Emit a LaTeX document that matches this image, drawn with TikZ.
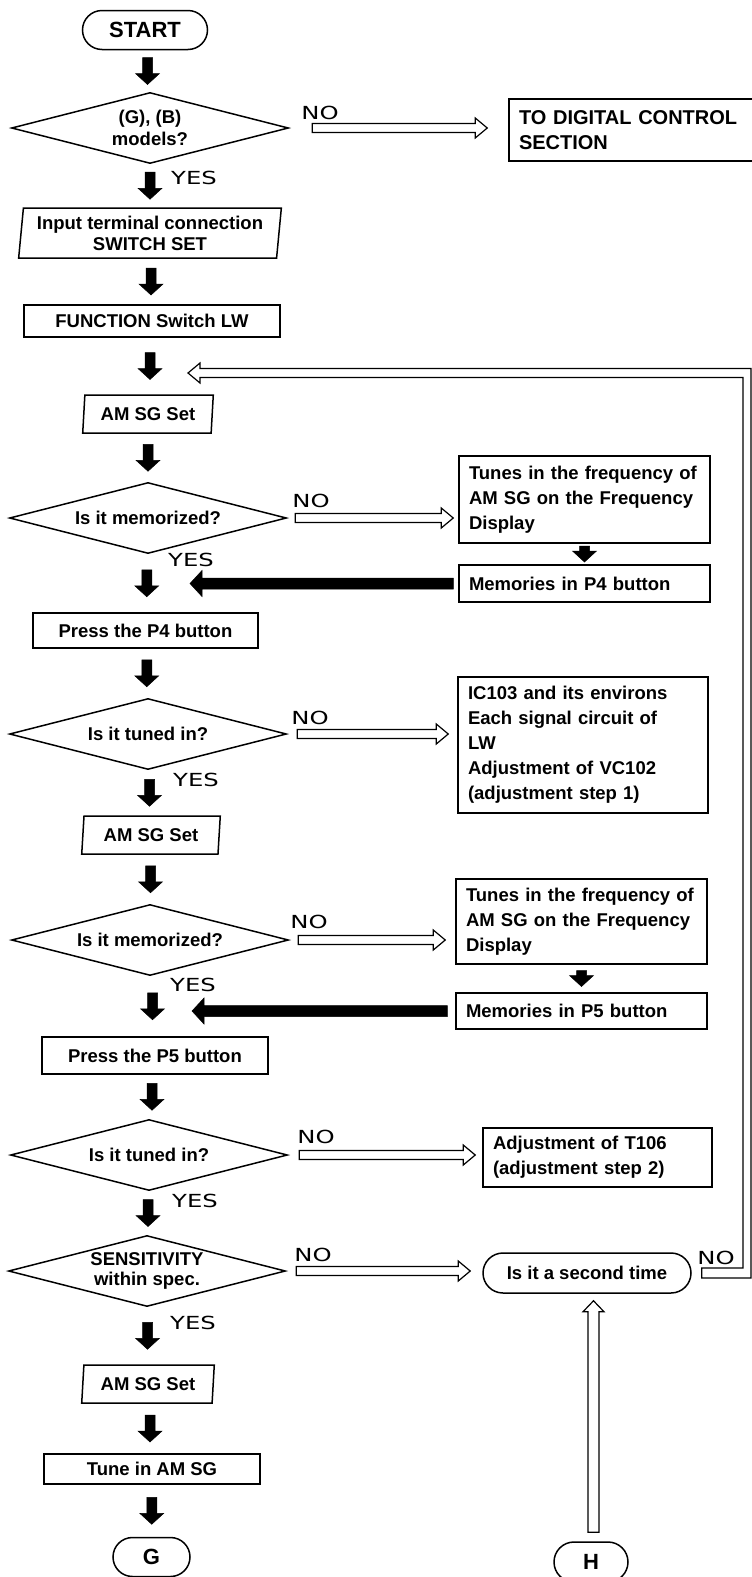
\documentclass[tikz,border=0pt]{standalone}
\usepackage{fontspec}
\setmainfont{Liberation Sans}
\newfontfamily\ynfont[FakeStretch=1.35]{DejaVu Sans}
\usetikzlibrary{shapes.geometric}
\usetikzlibrary{shapes.misc}
\usetikzlibrary{calc}

\tikzset{
  base/.style={draw, line width=1.5pt, inner sep=0pt, font=\bfseries\fontsize{18.5}{25}\selectfont},
  box/.style={base, rectangle},
  note/.style={box, align=left, text width=#1, inner xsep=10pt},
  decision/.style={base, diamond, aspect=3.9, minimum width=277pt, minimum height=71pt, align=center},
  io/.style={base, trapezium, trapezium left angle=83, trapezium right angle=97, trapezium stretches=true, align=center},
  term/.style={base, rounded rectangle},
  yn/.style={font=\ynfont\fontsize{18}{20}\selectfont, inner sep=0pt},
  blk/.style={draw, fill=black, line width=0.5pt,
    to path={let \p1=($(\tikztostart)!.5!(\tikztotarget)$) in
      (\x1-5pt,\y1+#1/2) -- (\x1-5pt,\y1-#1/2+11pt) -- (\x1-12pt,\y1-#1/2+11pt) -- (\x1,\y1-#1/2)
      -- (\x1+12pt,\y1-#1/2+11pt) -- (\x1+5pt,\y1-#1/2+11pt) -- (\x1+5pt,\y1+#1/2) -- cycle}},
  blk/.default=27,
  back/.style={draw, fill=black, line width=0.5pt,
    to path={let \p1=(\tikztostart), \p2=(\tikztotarget) in
      (\x1,\y1+5.5pt) -- (\x2+12pt,\y1+5.5pt) -- (\x2+12pt,\y1+13pt) -- (\x2,\y1)
      -- (\x2+12pt,\y1-13pt) -- (\x2+12pt,\y1-5.5pt) -- (\x1,\y1-5.5pt) -- cycle}},
  hollow/.style={draw, fill=white, line width=1.2pt,
    to path={let \p1=(\tikztostart), \p2=(\tikztotarget) in
      (\x1,\y1+4.5pt) -- (\x2-12pt,\y1+4.5pt) -- (\x2-12pt,\y1+10pt) -- (\x2,\y1)
      -- (\x2-12pt,\y1-10pt) -- (\x2-12pt,\y1-4.5pt) -- (\x1,\y1-4.5pt) -- cycle}},
  hollowup/.style={draw, fill=white, line width=1.2pt,
    to path={let \p1=(\tikztostart), \p2=(\tikztotarget) in
      (\x1-5.5pt,\y1) -- (\x1-5.5pt,\y2-11pt) -- (\x1-10.5pt,\y2-11pt) -- (\x1,\y2)
      -- (\x1+10.5pt,\y2-11pt) -- (\x1+5.5pt,\y2-11pt) -- (\x1+5.5pt,\y1) -- cycle}},
  pipe/.style={draw, fill=white, line width=1.2pt}
}

\begin{document}
\begin{tikzpicture}[x=1pt,y=1pt]
\useasboundingbox (0,0) rectangle (752,-1577);
\clip (0,0) rectangle (752,-1577);
\fill[white] (0,0) rectangle (752,-1577);

% main column
\node[term, minimum width=125pt, minimum height=39pt, font=\bfseries\fontsize{22}{26}\selectfont] (start) at (145,-30) {START};
\node[decision, font=\bfseries\fontsize{18.5}{22}\selectfont] (models) at (150,-128) {(G), (B)\\models?};
\node[io, minimum width=263pt, minimum height=50pt, font=\bfseries\fontsize{18.5}{21}\selectfont] (input) at (150,-233) {Input terminal connection\\SWITCH SET};
\node[box, minimum width=256pt, minimum height=32pt] (func) at (152,-321) {FUNCTION Switch LW};
\node[io, minimum width=131pt, minimum height=38pt] (sgA) at (148,-414) {AM SG Set};
\node[decision] (memoA) at (148,-518) {Is it memorized?};
\node[box, minimum width=225pt, minimum height=35pt] (pressA) at (145.5,-630.5) {Press the P4 button};
\node[decision] (tunedA) at (148,-734) {Is it tuned in?};
\node[io, minimum width=139pt, minimum height=38pt] (sgB) at (151,-835) {AM SG Set};
\node[decision] (memoB) at (150,-940) {Is it memorized?};
\node[box, minimum width=226pt, minimum height=37pt] (pressB) at (155,-1055.5) {Press the P5 button};
\node[decision] (tunedB) at (149,-1155) {Is it tuned in?};
\node[decision, font=\bfseries\fontsize{18.5}{20}\selectfont] (sens) at (147,-1271) {SENSITIVITY\\within spec.};
\node[io, minimum width=133pt, minimum height=38pt] (sgC) at (148,-1384) {AM SG Set};
\node[box, minimum width=216pt, minimum height=30pt] (tune) at (152,-1469) {Tune in AM SG};
\node[term, minimum width=77pt, minimum height=39pt, font=\bfseries\fontsize{22}{26}\selectfont] (g) at (151.5,-1557) {G};

% right column
\node[note=261pt, minimum height=62pt, font=\bfseries\fontsize{20}{25}\selectfont] (digital) at (649.5,-130) {TO DIGITAL CONTROL\\SECTION};
\node[note=231pt, minimum height=87pt] (freqA) at (584.5,-499.5) {Tunes in the frequency of\\AM SG on the Frequency\\Display};
\node[note=231pt, minimum height=37pt] (storeA) at (584.5,-583.5) {Memories in P4 button};
\node[note=230pt, minimum height=136pt] (ic) at (583,-745) {IC103 and its environs\\Each signal circuit of\\LW\\Adjustment of VC102\\(adjustment step 1)};
\node[note=231pt, minimum height=85pt] (freqB) at (581.5,-921.5) {Tunes in the frequency of\\AM SG on the Frequency\\Display};
\node[note=231pt, minimum height=36pt] (storeB) at (581.5,-1011) {Memories in P5 button};
\node[note=209pt, minimum height=59pt] (t106) at (597.5,-1157.5) {Adjustment of T106\\(adjustment step 2)};
\node[term, minimum width=208pt, minimum height=40pt] (second) at (587,-1273) {Is it a second time};
\node[term, minimum width=74pt, minimum height=40pt, font=\bfseries\fontsize{22}{26}\selectfont] (h) at (591,-1562) {H};

% labels
\node[yn] (noA) at (320,-113) {NO};
\node[yn] (noB) at (311,-501) {NO};
\node[yn] (noC) at (310,-718) {NO};
\node[yn] (noD) at (309,-922) {NO};
\node[yn] (noE) at (316,-1137) {NO};
\node[yn] (noF) at (313,-1255) {NO};
\node[yn] (noG) at (716,-1258) {NO};
\node[yn] (yesA) at (194,-178) {YES};
\node[yn] (yesB) at (191,-560) {YES};
\node[yn] (yesC) at (196,-780) {YES};
\node[yn] (yesD) at (193,-985) {YES};
\node[yn] (yesE) at (195,-1201) {YES};
\node[yn] (yesF) at (193,-1323) {YES};

\coordinate (backA) at (190,-583);
\coordinate (backB) at (192,-1011);
\coordinate (loop) at (188,-373);
\coordinate (rail) at (747,0);

% flow arrows
\draw[blk] (start.south) to (models.north);
\draw[blk] (models.south) to (input.north);
\draw[blk] (input.south) to (func.north);
\draw[blk] (func.south) to (sgA.north);
\draw[blk] (sgA.south) to (memoA.north);
\draw[blk] (memoA.south) to (pressA.north);
\draw[blk] (pressA.south) to (tunedA.north);
\draw[blk] (tunedA.south) to (sgB.north);
\draw[blk] (sgB.south) to (memoB.north);
\draw[blk] (memoB.south) to (pressB.north);
\draw[blk] (pressB.south) to (tunedB.north);
\draw[blk] (tunedB.south) to (sens.north);
\draw[blk] (sens.south) to (sgC.north);
\draw[blk] (sgC.south) to (tune.north);
\draw[blk] (tune.south) to (g.north);
\draw[blk=16] (freqA.south) to (storeA.north);
\draw[blk=16] (freqB.south) to (storeB.north);

\draw[back] ([xshift=-5pt]storeA.west) to (backA);
\draw[back] ([xshift=-8pt]storeB.west) to (backB);

\draw[hollow] ([xshift=23pt]models.east) to ([xshift=-21pt]digital.west);
\draw[hollow] ([xshift=8pt]memoA.east) to ([xshift=-5pt]freqA.west);
\draw[hollow] ([xshift=10pt]tunedA.east) to ([xshift=-9pt]ic.west);
\draw[hollow] ([xshift=9pt]memoB.east) to ([xshift=-10pt]freqB.west);
\draw[hollow] ([xshift=11pt]tunedB.east) to ([xshift=-7pt]t106.west);
\draw[hollow] ([xshift=10pt]sens.east) to ([xshift=-12pt]second.west);
\draw[hollowup] ([xshift=2.5pt,yshift=9pt]h.north) to ([yshift=-7pt]second.south);

\draw[pipe] let \p1=([xshift=10pt]second.east), \p2=(loop), \p3=(rail) in
  (\x1,\y1+5pt) -- (\x3-4pt,\y1+5pt) -- (\x3-4pt,\y2-4.5pt) -- (\x2+12pt,\y2-4.5pt)
  -- (\x2+12pt,\y2-10pt) -- (\x2,\y2) -- (\x2+12pt,\y2+10pt) -- (\x2+12pt,\y2+4.5pt)
  -- (\x3+4pt,\y2+4.5pt) -- (\x3+4pt,\y1-5pt) -- (\x1,\y1-5pt) -- cycle;
\end{tikzpicture}
\end{document}
